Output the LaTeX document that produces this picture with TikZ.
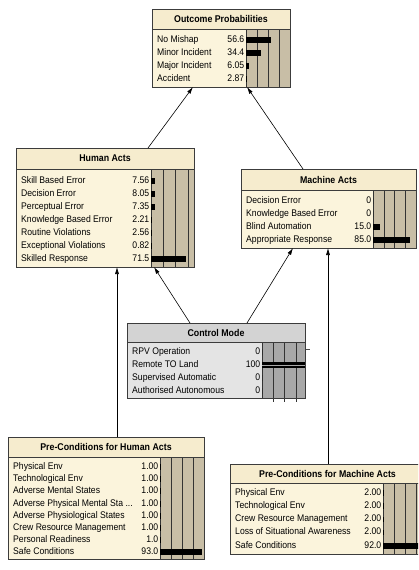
\documentclass[tikz,border=0pt]{standalone}
\usepackage{fontspec}
\setmainfont{Liberation Sans}
\newfontfamily\nfont[FakeStretch=0.9]{Liberation Sans}
\usetikzlibrary{fit,calc,arrows.meta}
\definecolor{creamT}{RGB}{246,236,206}
\definecolor{creamB}{RGB}{251,244,220}
\definecolor{tanBar}{RGB}{200,190,166}
\definecolor{grayT}{RGB}{211,211,211}
\definecolor{grayB}{RGB}{228,228,228}
\definecolor{grayBar}{RGB}{168,168,168}
\definecolor{frameC}{RGB}{60,60,60}
\colorlet{titlec}{creamT}
\colorlet{bodyc}{creamB}
\colorlet{barc}{tanBar}
\tikzset{
  boxframe/.style={draw=frameC, line width=0.8pt},
  gridl/.style={draw=black!80, line width=0.6pt},
  ttl/.style={font=\nfont\fontsize{9.8}{11}\selectfont\bfseries, inner sep=0pt},
  lbl/.style={font=\nfont\fontsize{9.6}{11}\selectfont, anchor=west, inner sep=0pt, text height=6.9pt, text depth=2pt},
  val/.style={lbl, anchor=east},
  barblk/.style={fill=black},
  link/.style={draw=black, line width=0.6pt, -{Latex[length=7pt,width=4pt]}},
}
% box: 1 name, 2 x1, 3 y1, 4 x2, 5 y2, 6 title bottom, 7 bar left, 8 grid step, 9 title
\newcommand\nbox[9]{%
  \node[fit={(#2,#3) (#4,#5)}, inner sep=0pt, outer sep=0pt, fill=bodyc] (#1) {};
  \fill[fill=titlec] (#2,#3) rectangle (#4,#6);
  \fill[fill=barc] (#7,#6) rectangle (#4,#5);
  \begin{scope}
    \clip (#2,#6) rectangle (#4,#5);
    \foreach \k in {0,...,4} {\draw[gridl] ({#7+\k*#8},#6) -- ({#7+\k*#8},#5);}
  \end{scope}
  \draw[boxframe] (#2,#6) -- (#4,#6);
  \draw[boxframe] (#2,#3) rectangle (#4,#5);
  \node[ttl] (#1t) at ({(#2+#4)/2},{(#3+#6)/2}) {#9};
}
% row: 1 name, 2 label x, 3 y, 4 label, 5 value right x, 6 value, 7 bar left, 8 bar length
\newcommand\nrow[8]{%
  \node[lbl] (#1l) at (#2,#3) {#4};
  \node[val] (#1v) at (#5,#3) {#6};
  \fill[barblk] (#7,{#3-2.8}) rectangle ({#7+#8},{#3+2.8});
}
\begin{document}
\begin{tikzpicture}[x=1pt,y=-1pt]
\useasboundingbox (0,0) rectangle (418,570);
\clip (0,0) rectangle (418,570);
\fill[white] (0,0) rectangle (418,570);

% Outcome Probabilities
\nbox{op}{152}{9}{290}{87}{29}{246}{11}{Outcome Probabilities}
\nrow{opa}{157}{40}{No Mishap}{244.5}{56.6}{246}{24.9}
\nrow{opb}{157}{53}{Minor Incident}{244.5}{34.4}{246}{15.1}
\nrow{opc}{157}{66}{Major Incident}{244.5}{6.05}{246}{2.66}
\nrow{opd}{157}{79}{Accident}{244.5}{2.87}{246}{1.26}

% Human Acts
\nbox{ha}{16}{148}{194}{267}{169}{151}{12.3}{Human Acts}
\nrow{haa}{21}{181}{Skill Based Error}{149.5}{7.56}{151}{3.7}
\nrow{hab}{21}{194}{Decision Error}{149.5}{8.05}{151}{3.94}
\nrow{hac}{21}{207}{Perceptual Error}{149.5}{7.35}{151}{3.6}
\nrow{had}{21}{220}{Knowledge Based Error}{149.5}{2.21}{151}{1.08}
\nrow{hae}{21}{233}{Routine Violations}{149.5}{2.56}{151}{1.25}
\nrow{haf}{21}{246}{Exceptional Violations}{149.5}{0.82}{151}{0.4}
\nrow{hag}{21}{259}{Skilled Response}{149.5}{71.5}{151}{35}

% Machine Acts
\nbox{ma}{241}{169}{416}{248}{190}{373}{10.8}{Machine Acts}
\nrow{maa}{246}{201}{Decision Error}{371.5}{0}{373}{0}
\nrow{mab}{246}{214}{Knowledge Based Error}{371.5}{0}{373}{0}
\nrow{mac}{246}{227}{Blind Automation}{371.5}{15.0}{373}{6.5}
\nrow{mad}{246}{240}{Appropriate Response}{371.5}{85.0}{373}{36.7}

% Control Mode
\begin{scope}
\colorlet{titlec}{grayT}\colorlet{bodyc}{grayB}\colorlet{barc}{grayBar}
\foreach \k in {1,2,3} {\draw[gridl] ({262+\k*11.3},398) -- ({262+\k*11.3},402);}
\nbox{cm}{127}{323}{305}{398}{342}{262}{11.3}{Control Mode}
\nrow{cma}{132}{352}{RPV Operation}{260.5}{0}{262}{0}
\nrow{cmb}{132}{365}{Remote TO Land}{260.5}{100}{262}{43}
\draw[grayBar, line width=0.5pt] (cmbv.east) ++(1.5,0) -- ++(43,0);
\nrow{cmc}{132}{378}{Supervised Automatic}{260.5}{0}{262}{0}
\nrow{cmd}{132}{391}{Authorised Autonomous}{260.5}{0}{262}{0}
\coordinate (cmtick) at ($(cm.north east)+(1,26)$);
\draw[black!70, line width=0.5pt] (cmtick) -- ++(4,0);
\end{scope}

% Pre-Conditions for Human Acts
\nbox{ph}{8}{437}{204}{559}{457}{160}{11}{Pre-Conditions for Human Acts}
\nrow{pha}{13}{467}{Physical Env}{158.5}{1.00}{160}{0.45}
\nrow{phb}{13}{479}{Technological Env}{158.5}{1.00}{160}{0.45}
\nrow{phc}{13}{491}{Adverse Mental States}{158.5}{1.00}{160}{0.45}
\nrow{phd}{13}{504}{Adverse Physical Mental Sta ...}{158.5}{1.00}{160}{0.45}
\nrow{phe}{13}{516}{Adverse Physiological States}{158.5}{1.00}{160}{0.45}
\nrow{phf}{13}{528}{Crew Resource Management}{158.5}{1.00}{160}{0.45}
\nrow{phg}{13}{540}{Personal Readiness}{158.5}{1.0}{160}{0.45}
\nrow{phh}{13}{552}{Safe Conditions}{158.5}{93.0}{160}{41.9}

% Pre-Conditions for Machine Acts
\nbox{pm}{230}{464}{425}{554}{483}{383}{11}{Pre-Conditions for Machine Acts}
\nrow{pma}{235}{493}{Physical Env}{381.5}{2.00}{383}{0.9}
\nrow{pmb}{235}{506}{Technological Env}{381.5}{2.00}{383}{0.9}
\nrow{pmc}{235}{519.5}{Crew Resource Management}{381.5}{2.00}{383}{0.9}
\nrow{pmd}{235}{532.5}{Loss of Situational Awareness}{381.5}{2.00}{383}{0.9}
\nrow{pme}{235}{546}{Safe Conditions}{381.5}{92.0}{383}{40.5}

% connectors
\draw[link] ($(ha.north west)+(132,0)$) -- ($(op.south west)+(41,0)$);
\draw[link] ($(ma.north west)+(62,0)$) -- ($(op.south west)+(95,0)$);
\draw[link] ($(cm.north west)+(63,0)$) -- ($(ha.south west)+(138,0)$);
\draw[link] ($(cm.north west)+(120,0)$) -- ($(ma.south west)+(52,0)$);
\draw[link] ($(ph.north west)+(109,0)$) -- ($(ha.south west)+(101,0)$);
\draw[link] ($(pm.north west)+(98,0)$) -- ($(ma.south west)+(87,0)$);
\end{tikzpicture}
\end{document}
